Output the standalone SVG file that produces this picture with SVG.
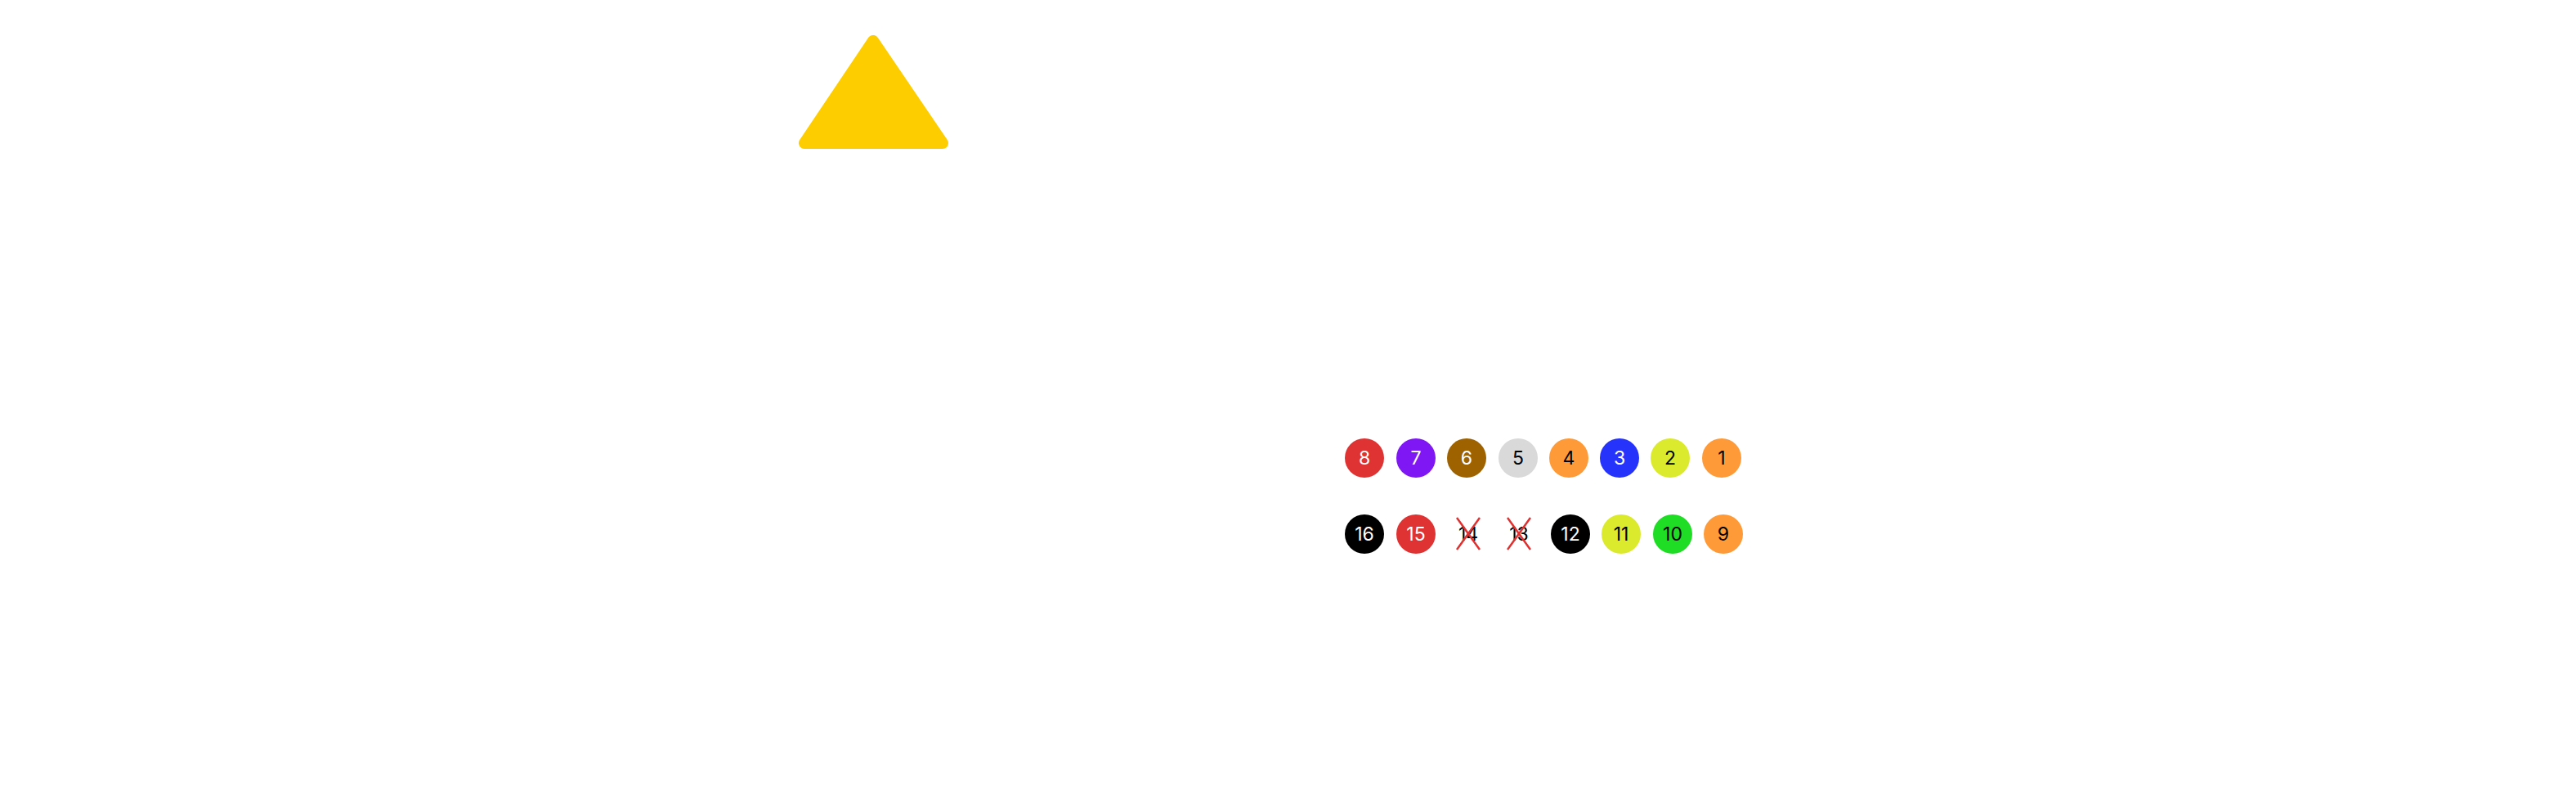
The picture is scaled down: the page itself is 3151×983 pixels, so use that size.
<svg xmlns="http://www.w3.org/2000/svg" width="3151" height="983" viewBox="0 0 3151 983">
<style>
text{font-family:Inter,"Liberation Sans",sans-serif;font-size:23px;text-anchor:middle;dominant-baseline:central}
.w{fill:#fff}.k{fill:#000}
.x{stroke:#e03030;stroke-width:2.5}
</style>
<rect width="3151" height="983" fill="#fff"/>
<g id="triangle"><polygon points="1068,50 984,175 1153,175" fill="#fecd00" stroke="#fecd00" stroke-width="14" stroke-linejoin="round"/></g>
<g id="n8"><circle cx="1669" cy="560" r="24" fill="#df3333"/><text x="1669" y="560" class="w">8</text></g>
<g id="n7"><circle cx="1732" cy="560" r="24" fill="#7f17f5"/><text x="1732" y="560" class="w">7</text></g>
<g id="n6"><circle cx="1794" cy="560" r="24" fill="#9e6200"/><text x="1794" y="560" class="w">6</text></g>
<g id="n5"><circle cx="1857" cy="560" r="24" fill="#d9d9d9"/><text x="1857" y="560" class="k">5</text></g>
<g id="n4"><circle cx="1919" cy="560" r="24" fill="#fe9a37"/><text x="1919" y="560" class="k">4</text></g>
<g id="n3"><circle cx="1981" cy="560" r="24" fill="#2634fb"/><text x="1981" y="560" class="w">3</text></g>
<g id="n2"><circle cx="2043" cy="560" r="24" fill="#dcea2e"/><text x="2043" y="560" class="k">2</text></g>
<g id="n1"><circle cx="2106" cy="560" r="24" fill="#fe9a37"/><text x="2106" y="560" class="k">1</text></g>
<g id="n16"><circle cx="1669" cy="653" r="24" fill="#000"/><text x="1669" y="653" class="w">16</text></g>
<g id="n15"><circle cx="1732" cy="653" r="24" fill="#df3333"/><text x="1732" y="653" class="w">15</text></g>
<g id="n14"><text x="1796" y="653" class="k">14</text><line x1="1782" y1="633" x2="1810" y2="672" class="x"/><line x1="1810" y1="633" x2="1782" y2="672" class="x"/></g>
<g id="n13"><text x="1858" y="653" class="k">13</text><line x1="1844" y1="633" x2="1872" y2="672" class="x"/><line x1="1872" y1="633" x2="1844" y2="672" class="x"/></g>
<g id="n12"><circle cx="1921" cy="653" r="24" fill="#000"/><text x="1921" y="653" class="w">12</text></g>
<g id="n11"><circle cx="1983" cy="653" r="24" fill="#dcea2e"/><text x="1983" y="653" class="k">11</text></g>
<g id="n10"><circle cx="2046" cy="653" r="24" fill="#1fdc24"/><text x="2046" y="653" class="k">10</text></g>
<g id="n9"><circle cx="2108" cy="653" r="24" fill="#fe9a37"/><text x="2108" y="653" class="k">9</text></g>
<g id="connectors"/>
</svg>
